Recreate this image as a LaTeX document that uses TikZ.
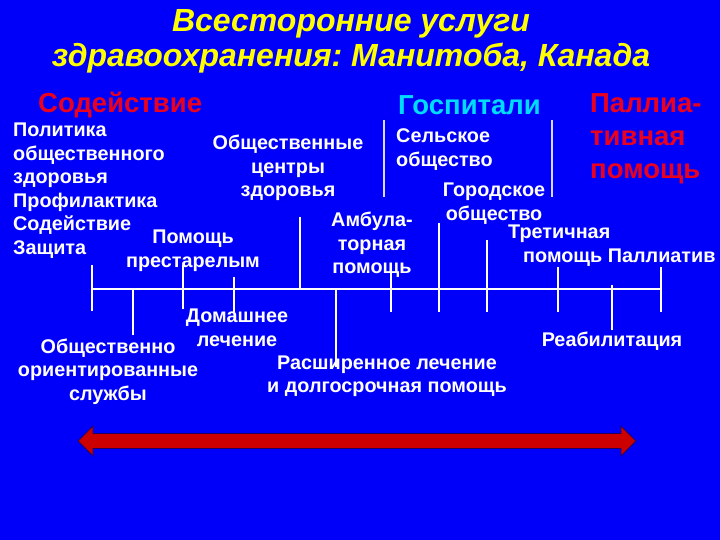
\documentclass[tikz,border=0pt]{standalone}
\usepackage{fontspec}
\setmainfont{Liberation Sans}
\frenchspacing
\definecolor{bgblue}{RGB}{0,0,250}
\definecolor{titleyellow}{RGB}{255,255,0}
\definecolor{headred}{RGB}{235,0,30}
\definecolor{headcyan}{RGB}{0,220,255}
\definecolor{arrowred}{RGB}{204,0,0}
\definecolor{arrowedge}{RGB}{40,0,90}
\begin{document}
\begin{tikzpicture}[x=1pt,y=-1pt,
  lbl/.style={text=white,font=\bfseries\fontsize{19.8}{23.5}\selectfont,inner sep=0pt},
  head/.style={font=\bfseries\fontsize{27.5}{33}\selectfont,inner sep=0pt},
  tick/.style={draw=white,line width=2pt},
  sep/.style={draw=white!85!blue,line width=1.2pt}]
\fill[bgblue] (0,0) rectangle (720,540);
\useasboundingbox (0,0) rectangle (720,540);
% title
\node[font=\bfseries\itshape\fontsize{32}{35}\selectfont,text=titleyellow,align=center,inner sep=0pt] (title) at (351,41) {Всесторонние услуги\\здравоохранения: Манитоба, Канада};
% headings
\node[head,text=headred,anchor=west] (hprom) at (38,105) {Содействие};
\node[head,text=headcyan,anchor=west] (hhosp) at (398,105) {Госпитали};
\node[head,text=headred,anchor=west,align=left] (hpall) at (590,139) {Паллиа-\\тивная\\помощь};
% separators
\coordinate (s1t) at (384,120); \coordinate (s1b) at (384,197);
\coordinate (s2t) at (552,120); \coordinate (s2b) at (552,197);
\draw[sep] (s1t) -- (s1b);
\draw[sep] (s2t) -- (s2b);
% labels
\node[lbl,anchor=west,align=left] (policy) at (13,190.5) {Политика\\общественного\\здоровья\\Профилактика\\Содействие\\Защита};
\node[lbl,align=center] (chc) at (288,168) {Общественные\\центры\\здоровья};
\node[lbl,anchor=west,align=left] (rural) at (396,149.5) {Сельское\\общество};
\node[lbl,align=center] (urban) at (494,203.5) {Городское\\общество};
\node[lbl,align=center] (amb) at (372,245) {Амбула-\\торная\\помощь};
\node[lbl,align=center] (elder) at (193,250.5) {Помощь\\престарелым};
\node[lbl,anchor=west] (tert) at (508,234) {Третичная};
\node[lbl,anchor=west] (pall) at (523,258) {помощь Паллиатив};
\node[lbl,align=center] (home) at (237,328) {Домашнее\\лечение};
\node[lbl,align=center] (comm) at (108,371.5) {Общественно\\ориентированные\\службы};
\node[lbl,align=center] (ext) at (387,376) {Расширенное лечение\\и долгосрочная помощь};
\node[lbl] (rehab) at (612,341) {Реабилитация};
% axis
\coordinate (axL) at (92,289); \coordinate (axR) at (661,289);
\draw[tick] (axL) -- (axR);
\draw[tick] (92,265) -- (92,311);
\draw[tick] (133,289) -- (133,335);
\draw[tick] (183,265) -- (183,309);
\draw[tick] (234,277) -- (234,312);
\draw[tick] (300,217) -- (300,289);
\draw[tick] (336,289) -- (336,367);
\draw[tick] (391,272) -- (391,312);
\draw[tick] (439,223) -- (439,312);
\draw[tick] (487,240) -- (487,312);
\draw[tick] (558,267) -- (558,312);
\draw[tick] (612,285) -- (612,330);
\draw[tick] (661,267) -- (661,312);
% double arrow
\filldraw[fill=arrowred,draw=arrowedge,line width=0.8pt,line join=miter]
  (78,441) -- (93,426) -- (93,433.5) -- (621,433.5) -- (621,426) -- (636,441)
  -- (621,456) -- (621,448.5) -- (93,448.5) -- (93,456) -- cycle;
\end{tikzpicture}
\end{document}
